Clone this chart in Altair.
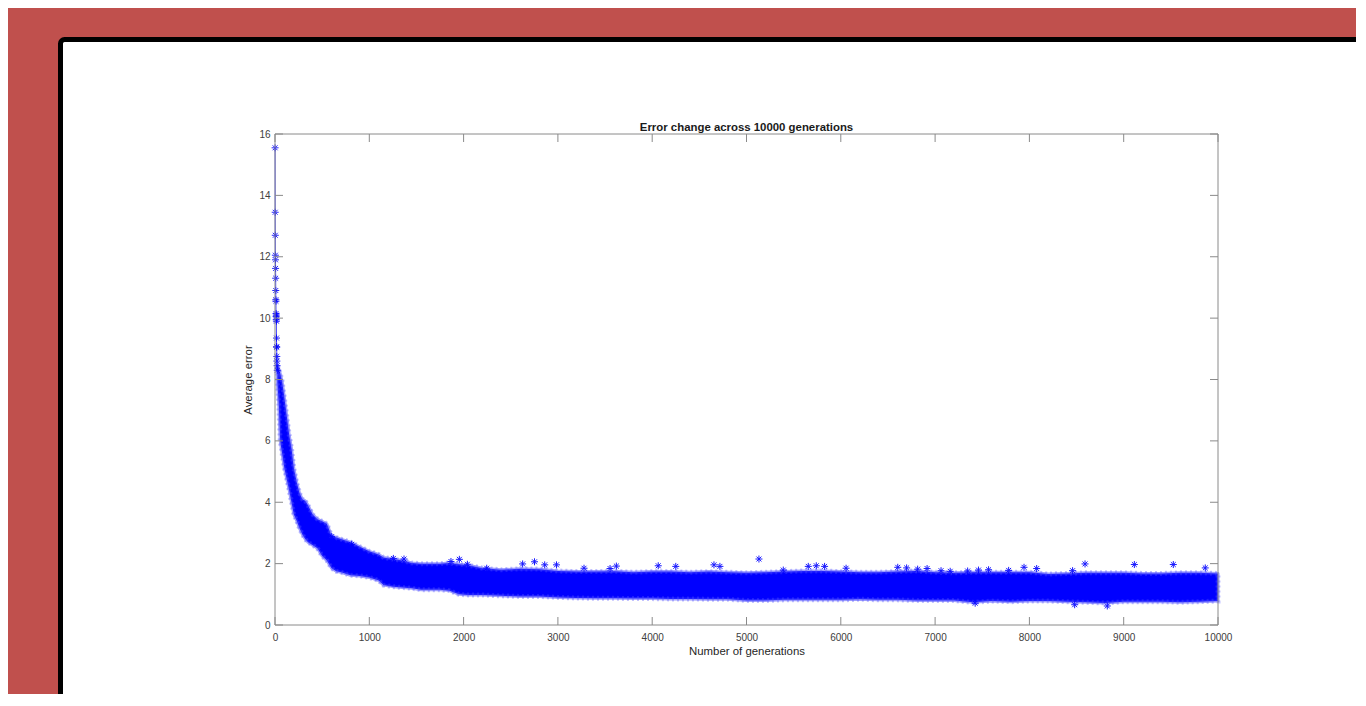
import altair as alt
import pandas as pd

# ---- data ----
early_gen = [1, 2, 3, 4, 5, 6, 7, 8, 9, 10, 11, 12, 13, 14, 15, 16, 17, 18, 19, 20, 22, 24]
early_err = [15.55, 13.45, 12.7, 12.05, 11.9, 11.62, 11.3, 10.9, 10.6, 10.55, 10.15,
             10.05, 9.95, 10.1, 9.9, 9.35, 9.07, 9.05, 8.75, 8.6, 8.45, 8.3]

band_gen = [25, 40, 55, 75, 100, 125, 150, 175, 200, 230, 260, 290, 320, 350, 400, 450,
            500, 550, 600, 650, 700, 800, 900, 1000, 1100, 1150, 1250, 1350, 1450, 1550,
            1650, 1750, 1850, 1950, 2050, 2200, 2400, 2600, 2800, 3000, 3200, 3400, 3600,
            3800, 4000, 4200, 4400, 4600, 4800, 5000, 5200, 5400, 5600, 5800, 6000, 6200,
            6400, 6600, 6800, 7000, 7200, 7400, 7600, 7800, 8000, 8200, 8400, 8600, 8800,
            9000, 9200, 9400, 9600, 9800, 10000]
band_upper = [8.45, 8.35, 8.2, 7.95, 7.4, 6.8, 6.2, 5.75, 5.1, 4.65, 4.3, 4.1, 4.05, 3.9,
              3.6, 3.45, 3.38, 3.3, 2.9, 2.85, 2.8, 2.7, 2.55, 2.4, 2.3, 2.2, 2.15, 2.1,
              2.02, 2.0, 2.0, 2.0, 2.02, 1.98, 1.95, 1.85, 1.8, 1.83, 1.82, 1.76, 1.74,
              1.74, 1.75, 1.72, 1.74, 1.74, 1.72, 1.74, 1.72, 1.70, 1.72, 1.74, 1.76, 1.76,
              1.74, 1.72, 1.72, 1.74, 1.76, 1.72, 1.70, 1.72, 1.72, 1.72, 1.72, 1.66, 1.68,
              1.70, 1.70, 1.70, 1.68, 1.68, 1.70, 1.70, 1.68]
band_lower = [7.9, 7.2, 6.0, 5.6, 5.1, 4.75, 4.4, 4.0, 3.6, 3.4, 3.15, 2.95, 2.8, 2.7,
              2.6, 2.5, 2.25, 2.1, 1.85, 1.75, 1.72, 1.62, 1.6, 1.55, 1.45, 1.3, 1.25,
              1.22, 1.2, 1.15, 1.15, 1.15, 1.12, 1.0, 0.98, 0.98, 0.95, 0.93, 0.93, 0.9,
              0.88, 0.87, 0.87, 0.86, 0.86, 0.85, 0.85, 0.84, 0.84, 0.80, 0.80, 0.82, 0.82,
              0.82, 0.82, 0.84, 0.82, 0.82, 0.80, 0.80, 0.80, 0.74, 0.78, 0.76, 0.78, 0.78,
              0.76, 0.74, 0.72, 0.76, 0.76, 0.76, 0.74, 0.76, 0.78]

star_gen = [601, 813, 1255, 1368, 1866, 1955, 2040, 2245, 2626, 2752, 2860, 2985, 3277,
            3553, 3620, 4064, 4250, 4655, 4718, 5132, 5390, 5655, 5740, 5828, 6056, 6604,
            6698, 6815, 6915, 7063, 7160, 7345, 7460, 7567, 7780, 7943, 8077, 8458, 8590,
            9113, 9526, 9865, 7425, 8480, 8826]
star_err = [2.88, 2.63, 2.17, 2.15, 2.07, 2.14, 1.98, 1.85, 1.99, 2.06, 1.96, 1.96, 1.85,
            1.84, 1.92, 1.93, 1.91, 1.96, 1.91, 2.15, 1.79, 1.91, 1.93, 1.91, 1.85, 1.88,
            1.86, 1.82, 1.84, 1.77, 1.75, 1.76, 1.79, 1.80, 1.78, 1.88, 1.84, 1.77, 1.99,
            1.97, 1.97, 1.86, 0.71, 0.66, 0.62]

x_ticks = [0, 1000, 2000, 3000, 4000, 5000, 6000, 7000, 8000, 9000, 10000]
y_ticks = [0, 2, 4, 6, 8, 10, 12, 14, 16]

TITLE = "Error change across 10000 generations"
X_TITLE = "Number of generations"
Y_TITLE = "Average error"

# ---- layout ----
W, H = 943, 491
BLUE = "#0000ff"
AX = "#8a8a8a"
FONT = "Liberation Sans"

early_df = pd.DataFrame({"gen": early_gen, "err": early_err})
band_df = pd.DataFrame({"gen": band_gen, "err": band_upper, "lo": band_lower})
star_df = pd.DataFrame({"gen": star_gen, "err": star_err})
xt_df = pd.DataFrame({"gen": x_ticks})
yt_df = pd.DataFrame({"err": y_ticks})
one = alt.Data(values=[{}])
title_data = alt.Data(values=[{"t": TITLE}])

xs = alt.Scale(domain=[0, 10000], nice=False, zero=False)
ys = alt.Scale(domain=[0, 16], nice=False, zero=False)

x_axis = alt.Axis(title=X_TITLE, values=x_ticks, ticks=False, tickSize=0, domain=False,
                  grid=False, labelPadding=7, labelFontSize=10, labelColor="#404040",
                  labelFont=FONT, titleFont=FONT, titleFontSize=11.4,
                  titleFontWeight="normal", titleColor="#262626", titlePadding=3,
                  format="d", labelFlush=False, zindex=1)
y_axis = alt.Axis(title=Y_TITLE, values=y_ticks, ticks=False, tickSize=0, domain=False,
                  grid=False, labelPadding=5, labelFontSize=10, labelColor="#404040",
                  labelFont=FONT, titleFont=FONT, titleFontSize=11.4,
                  titleFontWeight="normal", titleColor="#262626", titlePadding=5,
                  format="d", zindex=1)

X = alt.X("gen:Q", scale=xs, axis=x_axis)
Y = alt.Y("err:Q", scale=ys, axis=y_axis)

ASTER = "M-1,0L1,0M0,-1L0,1M-0.7,-0.7L0.7,0.7M-0.7,0.7L0.7,-0.7"

frame = alt.Chart(one).mark_rect(
    fill="white", stroke="black", strokeWidth=5, cornerRadius=4
).encode(x=alt.value(-214.5), x2=alt.value(1300), y=alt.value(-94.5), y2=alt.value(800))

band = alt.Chart(band_df).mark_area(
    color=BLUE, stroke="#3c3cff", strokeWidth=3, strokeOpacity=0.5, strokeJoin="round"
).encode(x=X, y=Y, y2="lo:Q")

band_fuzz = alt.Chart(band_df).mark_area(
    fillOpacity=0, stroke="#5050ff", strokeWidth=5, strokeOpacity=0.35,
    strokeDash=[2, 3]
).encode(x=X, y=Y, y2="lo:Q")

line = alt.Chart(early_df).mark_line(color=BLUE, strokeWidth=1, opacity=0.7).encode(x=X, y=Y)

early_pts = alt.Chart(early_df).mark_point(
    shape=ASTER, size=49, filled=False, color=BLUE, strokeWidth=1, opacity=0.85
).encode(x=X, y=Y)

stars = alt.Chart(star_df).mark_point(
    shape=ASTER, size=49, filled=False, color=BLUE, strokeWidth=1, opacity=0.9
).encode(x=X, y=Y)

xt_bottom = alt.Chart(xt_df).mark_rule(color=AX, strokeWidth=1).encode(
    x=X, y=alt.value(H), y2=alt.value(H - 8))
xt_top = alt.Chart(xt_df).mark_rule(color=AX, strokeWidth=1).encode(
    x=X, y=alt.value(0), y2=alt.value(8))
yt_left = alt.Chart(yt_df).mark_rule(color=AX, strokeWidth=1).encode(
    y=Y, x=alt.value(0), x2=alt.value(8))
yt_right = alt.Chart(yt_df).mark_rule(color=AX, strokeWidth=1).encode(
    y=Y, x=alt.value(W), x2=alt.value(W - 8))

box_b = alt.Chart(one).mark_rule(color=AX, strokeWidth=1).encode(
    x=alt.value(0), x2=alt.value(W), y=alt.value(H))
box_t = alt.Chart(one).mark_rule(color=AX, strokeWidth=1).encode(
    x=alt.value(0), x2=alt.value(W), y=alt.value(0))
box_l = alt.Chart(one).mark_rule(color=AX, strokeWidth=1).encode(
    x=alt.value(0), y=alt.value(0), y2=alt.value(H))
box_r = alt.Chart(one).mark_rule(color=AX, strokeWidth=1).encode(
    x=alt.value(W), y=alt.value(0), y2=alt.value(H))

title = alt.Chart(title_data).mark_text(
    font=FONT, fontSize=11.4, fontWeight="bold", color="#1a1a1a",
    align="center", baseline="alphabetic"
).encode(text="t:N", x=alt.value(W / 2), y=alt.value(-3))

chart = alt.layer(
    frame, band, band_fuzz, line, early_pts, stars,
    xt_bottom, xt_top, yt_left, yt_right, box_b, box_t, box_l, box_r, title
).properties(
    width=W, height=H,
    autosize=alt.AutoSizeParams(type="none"),
    padding={"left": 267, "top": 126, "right": 138, "bottom": 69},
    background="#c0504d",
).configure_view(stroke=None)

chart.save("out.html", embed_options={"renderer": "svg", "actions": False})
